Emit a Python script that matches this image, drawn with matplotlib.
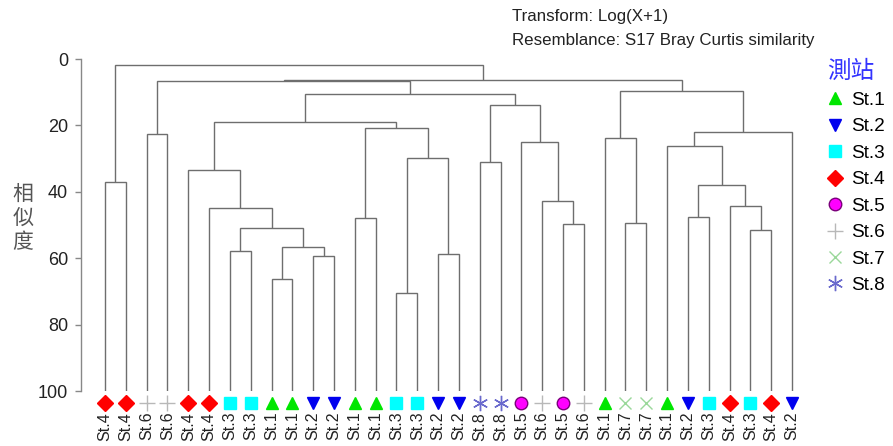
import matplotlib
matplotlib.use("Agg")
import matplotlib.pyplot as plt
from matplotlib.lines import Line2D

plt.rcParams['font.family'] = ['Liberation Sans', 'Noto Sans CJK TC', 'DejaVu Sans']

# Leaf station numbers (left to right)
leaf_stations = [4, 4, 6, 6, 4, 4, 3, 3, 1, 1, 2, 2, 1, 1, 3, 3, 2, 2,
                 8, 8, 5, 6, 5, 6, 1, 7, 7, 1, 2, 3, 4, 3, 4, 2]

# Merges: (child a, child b, similarity); new cluster id = n_leaves + index
merge_a = [14, 8, 10, 16, 6, 35, 31, 38, 22, 25, 12, 28, 5, 30, 21, 45, 0,
           4, 18, 34, 27, 20, 24, 2, 54, 44, 51, 52, 60, 56, 57, 64, 50]
merge_b = [15, 9, 11, 17, 7, 36, 32, 39, 23, 26, 13, 29, 41, 40, 42, 47, 1,
           46, 19, 37, 49, 48, 43, 3, 33, 53, 59, 55, 61, 58, 62, 63, 65]
merge_sim = [70.6, 66.2, 59.3, 58.8, 57.7, 56.5, 51.5, 51.0, 49.8, 49.4, 47.8,
             47.7, 44.8, 44.4, 42.8, 37.9, 37.0, 33.3, 31.1, 29.7, 26.3, 24.9,
             23.9, 22.7, 22.1, 20.7, 18.9, 13.9, 10.45, 9.5, 6.7, 6.4, 1.8]

station_names = ['St.1', 'St.2', 'St.3', 'St.4', 'St.5', 'St.6', 'St.7', 'St.8']
station_markers = ['^', 'v', 's', 'D', 'o', '+', 'x', (6, 2, 0)]
station_colors = ['#00e600', '#0000ee', '#00ffff', '#ff0000', '#ff00ff',
                  '#b8b8b8', '#9ad89a', '#6a6acd']
station_sizes = [9, 9, 8, 8, 9, 11, 9, 11]

W, H = 893, 446
fig = plt.figure(figsize=(W / 100, H / 100), dpi=100)
ax_left, ax_right = 81, 810
ax_top, ax_bot = 59, 391
ax = fig.add_axes([ax_left / W, (H - ax_bot) / H, (ax_right - ax_left) / W, (ax_bot - ax_top) / H])

n = len(leaf_stations)
pos = {i: float(i) for i in range(n)}
hgt = {i: 100.0 for i in range(n)}
line_color = '#6e6e6e'
for k, (a, b, s) in enumerate(zip(merge_a, merge_b, merge_sim)):
    xa, xb = pos[a], pos[b]
    ax.plot([xa, xa, xb, xb], [hgt[a], s, s, hgt[b]], color=line_color, lw=1.0,
            solid_capstyle='butt', solid_joinstyle='miter')
    pos[n + k] = (xa + xb) / 2
    hgt[n + k] = s

ax.set_ylim(100, 0)
ax.set_xlim(-1.153, 33.865)

# leaf markers
for i, st in enumerate(leaf_stations):
    j = st - 1
    ec = '#7a007a' if st == 5 else station_colors[j]
    ax.plot(i, 103.5, marker=station_markers[j], ms=station_sizes[j],
            color=station_colors[j], mec=ec, mew=1.0,
            linestyle='none', clip_on=False)

ax.set_xticks(range(n))
ax.set_xticklabels([f'St.{s}' for s in leaf_stations], rotation=90, fontsize=11.5,
                   color='#222222')
ax.tick_params(axis='x', length=0, pad=15)
ax.set_yticks([0, 20, 40, 60, 80, 100])
ax.tick_params(axis='y', length=4.3, width=1.0, color='#888888', pad=5,
               labelsize=13, labelcolor='#222222')
for sp in ['top', 'right', 'bottom']:
    ax.spines[sp].set_visible(False)
ax.spines['left'].set_color('#888888')
ax.spines['left'].set_linewidth(1.0)

fig.text(23 / W, 1 - 218 / H, '相\n似\n度', ha='center', va='center', fontsize=15,
         linespacing=1.15, color='#555555', family=['Noto Sans CJK TC'])

fig.text(512 / W, 1 - 17 / H, 'Transform: Log(X+1)', ha='left', va='center',
         fontsize=12.2, color='#222222')
fig.text(512 / W, 1 - 40 / H, 'Resemblance: S17 Bray Curtis similarity', ha='left',
         va='center', fontsize=12.2, color='#222222')

handles = []
for name, mk, c, sz in zip(station_names, station_markers, station_colors, station_sizes):
    ec = '#7a007a' if name == 'St.5' else c
    handles.append(Line2D([], [], marker=mk, color=c, mec=ec, ms=sz, linestyle='none'))
leg = fig.legend(handles, station_names, loc='upper left',
                 bbox_to_anchor=(818 / W, 1 - 50 / H), frameon=False, fontsize=13.7,
                 title='測站', handlelength=0.8, handletextpad=0.45,
                 labelspacing=0.48, borderpad=0.0, alignment='left')
leg.get_title().set_color('#3333ff')
leg.get_title().set_fontsize(17)
leg.get_title().set_family(['Noto Sans CJK TC'])

fig.savefig('out.png', dpi=100)
